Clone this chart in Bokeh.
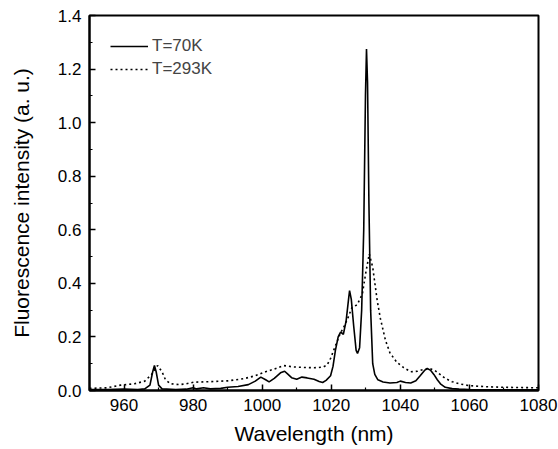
from bokeh.plotting import figure
from bokeh.models import (FixedTicker, NumeralTickFormatter, Legend,
                          LegendItem, Range1d)
from bokeh.embed import file_html
from bokeh.resources import INLINE

# Fluorescence spectrum at 70 K
wl_70k = [950, 955, 960, 964, 966, 967.5, 968.3, 968.8, 969.3, 970, 971, 975,
          978, 980, 981, 983, 985, 988, 990, 993, 996, 998, 999.6, 1001, 1002,
          1003.5, 1005.3, 1006.5, 1007.5, 1008.5, 1010, 1011.5, 1013, 1015,
          1016.5, 1017.5, 1018.5, 1019.8, 1020.5, 1021.2, 1022, 1022.7, 1023.5,
          1024.3, 1025, 1025.3, 1025.8, 1026.5, 1027.2, 1027.6, 1028.2, 1028.8,
          1029.4, 1029.9, 1030.2, 1030.5, 1030.9, 1031.4, 1032, 1032.6, 1033.5,
          1035, 1037, 1039, 1040, 1041.5, 1043, 1044.5, 1045.8, 1047, 1047.8,
          1048.8, 1049.7, 1050.7, 1051.6, 1053, 1055, 1057, 1060, 1065, 1070,
          1075, 1080]
int_70k = [0.004, 0.004, 0.005, 0.004, 0.006, 0.02, 0.07, 0.093, 0.07, 0.02,
           0.006, 0.004, 0.005, 0.01, 0.006, 0.01, 0.006, 0.008, 0.012, 0.015,
           0.022, 0.035, 0.05, 0.04, 0.032, 0.045, 0.066, 0.072, 0.06, 0.048,
           0.042, 0.05, 0.047, 0.042, 0.034, 0.03, 0.038, 0.055, 0.09, 0.15,
           0.2, 0.218, 0.21, 0.26, 0.34, 0.373, 0.34, 0.24, 0.15, 0.138, 0.16,
           0.3, 0.6, 1.1, 1.275, 1.15, 0.7, 0.3, 0.1, 0.06, 0.04, 0.032, 0.028,
           0.03, 0.035, 0.03, 0.028, 0.036, 0.056, 0.075, 0.082, 0.075, 0.06,
           0.04, 0.025, 0.012, 0.007, 0.005, 0.004, 0.003, 0.003, 0.003, 0.003]

# Fluorescence spectrum at 293 K
wl_293k = [950, 955, 959, 963, 966, 968, 969.7, 971, 972, 973.5, 976, 978,
           980.2, 985, 990, 994.7, 998, 1001, 1003.5, 1006.2, 1009, 1012, 1015,
           1017.5, 1018.8, 1019.8, 1021, 1022.5, 1023.6, 1024.8, 1026, 1027.5,
           1029, 1030, 1031, 1032, 1033.3, 1034.2, 1035.7, 1037, 1039, 1041,
           1043, 1045, 1046.5, 1048.5, 1050, 1051.5, 1053, 1055, 1057, 1060,
           1065, 1070, 1075, 1080]
int_293k = [0.008, 0.01, 0.02, 0.025, 0.035, 0.06, 0.093, 0.07, 0.04, 0.025,
            0.022, 0.025, 0.031, 0.033, 0.036, 0.044, 0.055, 0.07, 0.08, 0.093,
            0.088, 0.086, 0.085, 0.087, 0.095, 0.12, 0.16, 0.21, 0.236, 0.27,
            0.31, 0.32, 0.36, 0.44, 0.51, 0.46, 0.336, 0.27, 0.187, 0.14, 0.105,
            0.085, 0.07, 0.072, 0.078, 0.082, 0.075, 0.06, 0.045, 0.033, 0.025,
            0.018, 0.014, 0.012, 0.011, 0.01]

# Axis ticks
x_major = [960, 980, 1000, 1020, 1040, 1060, 1080]
x_minor = [950, 970, 990, 1010, 1030, 1050, 1070]
y_major = [0.0, 0.2, 0.4, 0.6, 0.8, 1.0, 1.2, 1.4]
y_minor = [0.1, 0.3, 0.5, 0.7, 0.9, 1.1, 1.3]

FONT = "Liberation Sans"

p = figure(frame_width=449, frame_height=375, output_backend="svg",
           toolbar_location=None, x_range=Range1d(950, 1080),
           y_range=Range1d(0, 1.4), min_border_left=89, min_border_right=20,
           min_border_top=15, min_border_bottom=59,
           background_fill_color="white", border_fill_color="white")
p.grid.visible = False
p.outline_line_color = "black"
p.outline_line_width = 2

r70 = p.line(wl_70k, int_70k, line_color="black", line_width=1.6)
r293 = p.line(wl_293k, int_293k, line_color="black", line_width=1.6,
              line_dash="2 3")

p.xaxis.ticker = FixedTicker(ticks=x_major, minor_ticks=x_minor)
p.yaxis.ticker = FixedTicker(ticks=y_major, minor_ticks=y_minor)
p.yaxis.formatter = NumeralTickFormatter(format="0.0")
p.xaxis.axis_label = "Wavelength (nm)"
p.yaxis.axis_label = "Fluorescence intensity (a. u.)"

for ax in (p.xaxis[0], p.yaxis[0]):
    ax.axis_line_width = 2
    ax.major_tick_in = 6
    ax.major_tick_out = 0
    ax.minor_tick_in = 3
    ax.minor_tick_out = 0
    ax.major_tick_line_width = 1.5
    ax.minor_tick_line_width = 1.2
    ax.major_label_text_font = FONT
    ax.major_label_text_font_size = "17px"
    ax.major_label_text_color = "black"
    ax.axis_label_text_font = FONT
    ax.axis_label_text_font_size = "21px"
    ax.axis_label_text_font_style = "normal"
    ax.axis_label_text_color = "black"
p.xaxis.major_label_standoff = 8
p.yaxis.major_label_standoff = 8
p.xaxis.axis_label_standoff = 8
p.yaxis.axis_label_standoff = 22

legend = Legend(items=[LegendItem(label="T=70K", renderers=[r70]),
                       LegendItem(label="T=293K", renderers=[r293])],
                location="top_left", border_line_alpha=0,
                background_fill_alpha=0, margin=0, padding=21, spacing=3,
                glyph_width=38, glyph_height=20, label_height=20,
                label_standoff=4, label_text_font=FONT,
                label_text_font_size="17px")
p.add_layout(legend)

open("out.html", "w").write(file_html(p, INLINE))
